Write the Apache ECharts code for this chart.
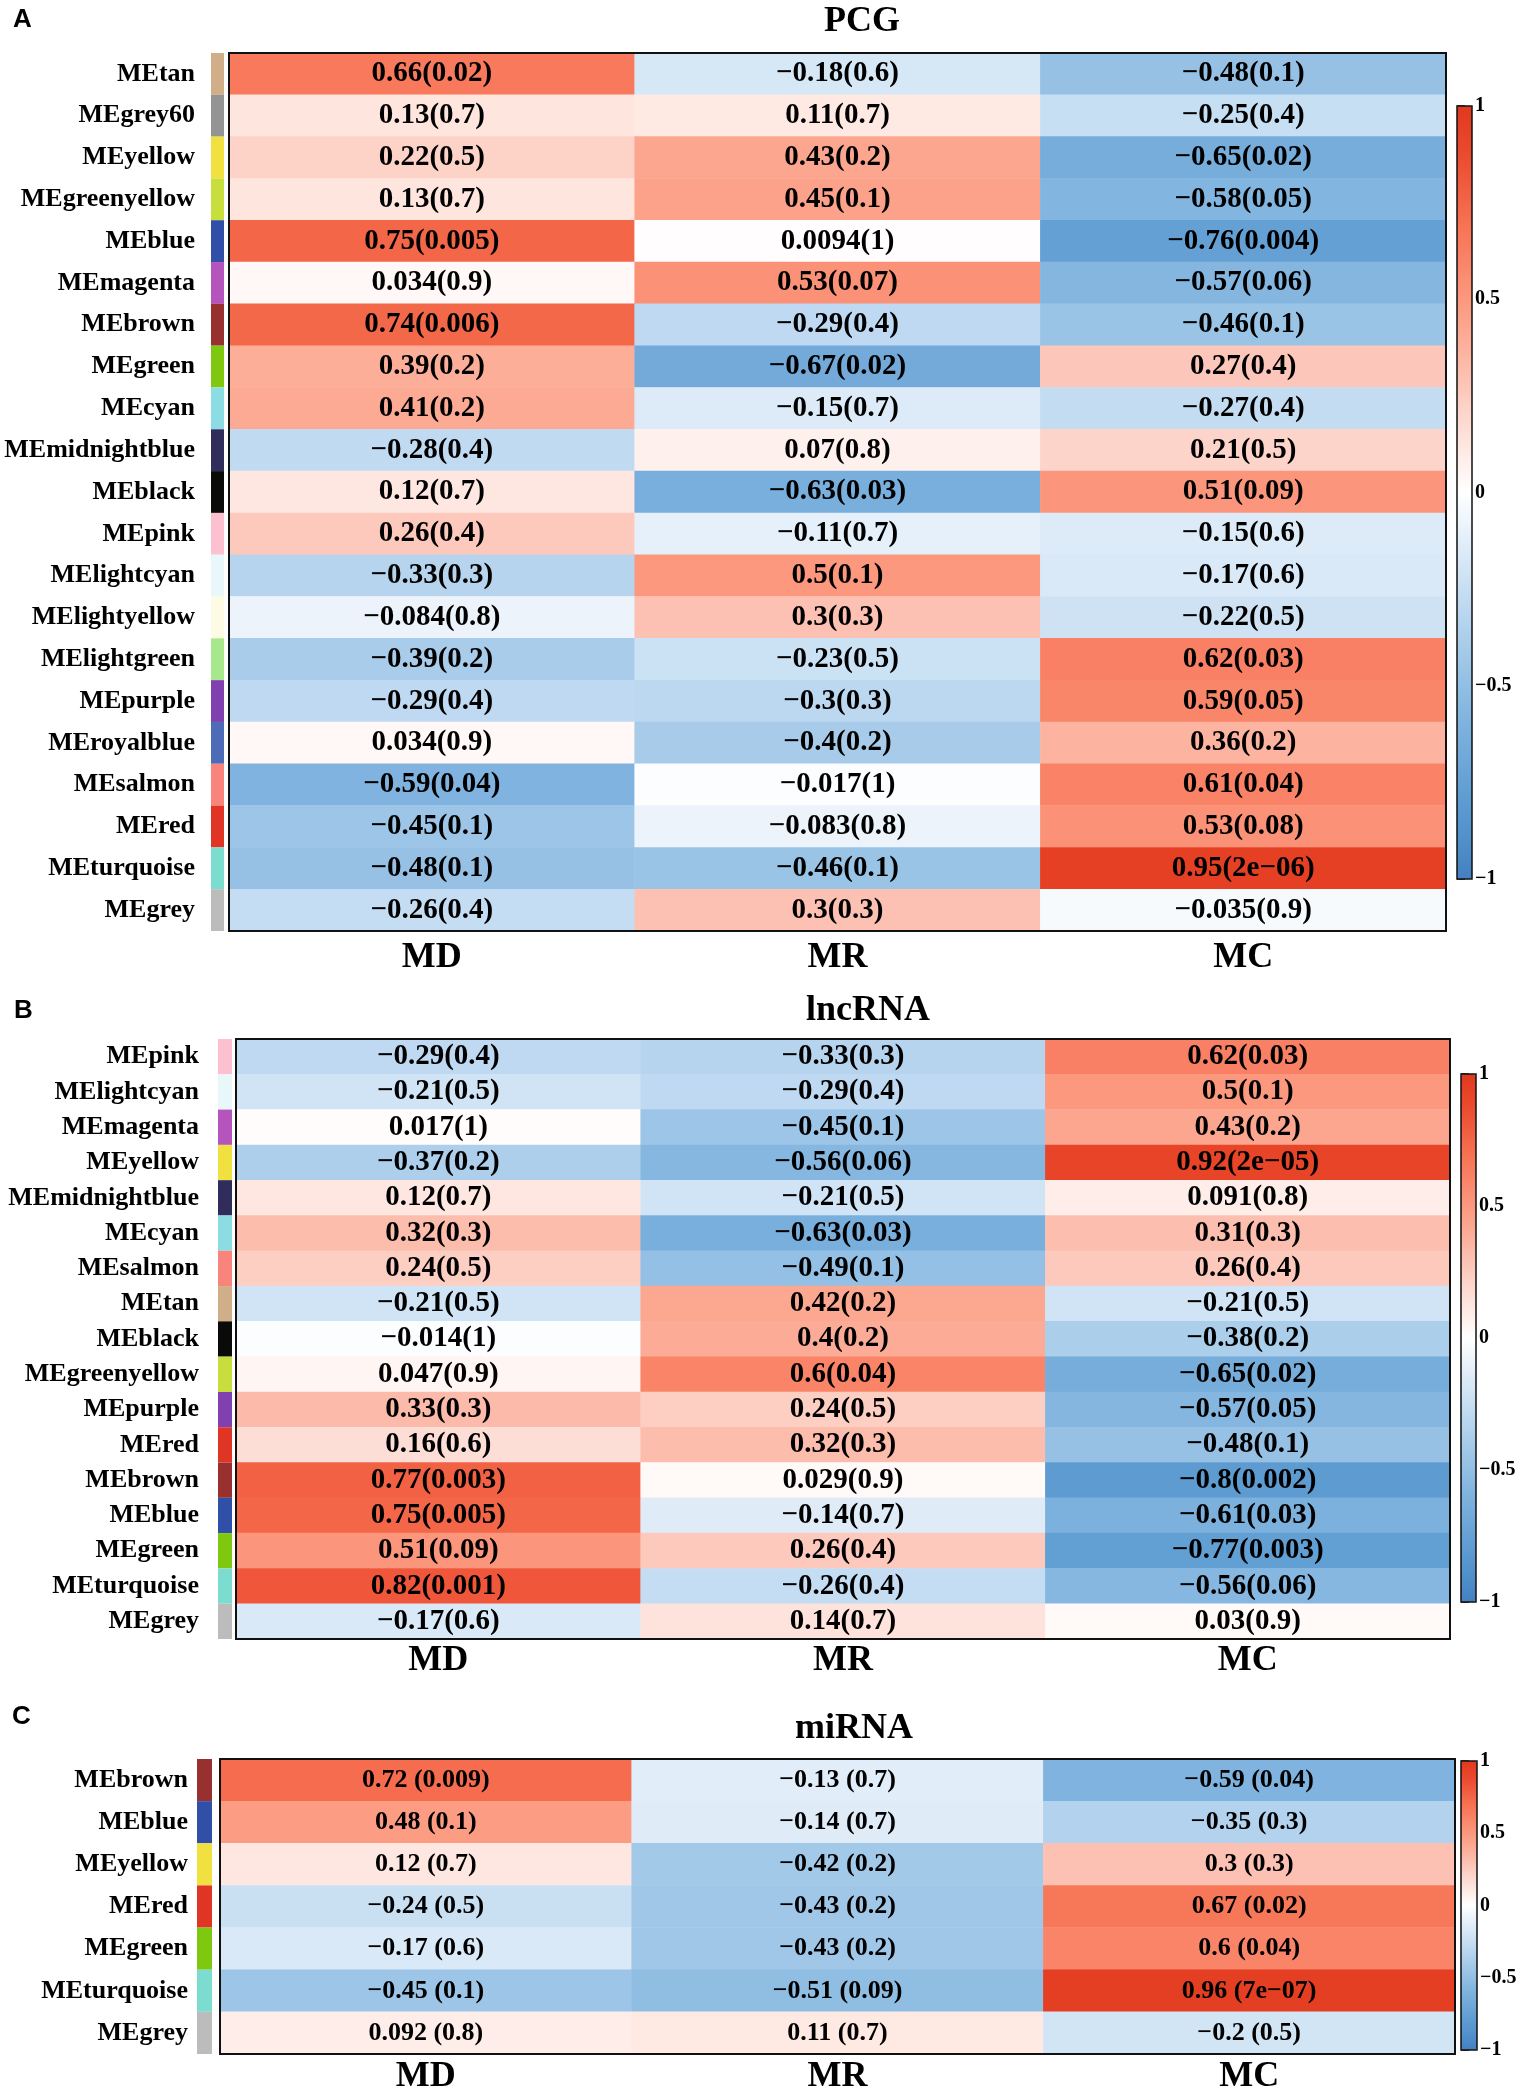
<!DOCTYPE html>
<html>
<head>
<meta charset="utf-8">
<script src="https://cdn.jsdelivr.net/npm/echarts@6/dist/echarts.min.js"></script>
<style>
  html, body { margin: 0; padding: 0; background: #fff; }
  #chart { width: 1535px; height: 2098px; }
</style>
</head>
<body>
<div id="chart"></div>
<script>
// traits on the x axis
const traits = ['MD', 'MR', 'MC'];

// A - PCG modules
const pcgModules = ['MEtan', 'MEgrey60', 'MEyellow', 'MEgreenyellow', 'MEblue', 'MEmagenta', 'MEbrown',
  'MEgreen', 'MEcyan', 'MEmidnightblue', 'MEblack', 'MEpink', 'MElightcyan', 'MElightyellow',
  'MElightgreen', 'MEpurple', 'MEroyalblue', 'MEsalmon', 'MEred', 'MEturquoise', 'MEgrey'];
const pcgR = [
  [0.66, -0.18, -0.48], [0.13, 0.11, -0.25], [0.22, 0.43, -0.65], [0.13, 0.45, -0.58],
  [0.75, 0.0094, -0.76], [0.034, 0.53, -0.57], [0.74, -0.29, -0.46], [0.39, -0.67, 0.27],
  [0.41, -0.15, -0.27], [-0.28, 0.07, 0.21], [0.12, -0.63, 0.51], [0.26, -0.11, -0.15],
  [-0.33, 0.5, -0.17], [-0.084, 0.3, -0.22], [-0.39, -0.23, 0.62], [-0.29, -0.3, 0.59],
  [0.034, -0.4, 0.36], [-0.59, -0.017, 0.61], [-0.45, -0.083, 0.53], [-0.48, -0.46, 0.95],
  [-0.26, 0.3, -0.035]
];
const pcgP = [
  ['0.02', '0.6', '0.1'], ['0.7', '0.7', '0.4'], ['0.5', '0.2', '0.02'], ['0.7', '0.1', '0.05'],
  ['0.005', '1', '0.004'], ['0.9', '0.07', '0.06'], ['0.006', '0.4', '0.1'], ['0.2', '0.02', '0.4'],
  ['0.2', '0.7', '0.4'], ['0.4', '0.8', '0.5'], ['0.7', '0.03', '0.09'], ['0.4', '0.7', '0.6'],
  ['0.3', '0.1', '0.6'], ['0.8', '0.3', '0.5'], ['0.2', '0.5', '0.03'], ['0.4', '0.3', '0.05'],
  ['0.9', '0.2', '0.2'], ['0.04', '1', '0.04'], ['0.1', '0.8', '0.08'], ['0.1', '0.1', '2e\u221206'],
  ['0.4', '0.3', '0.9']
];

// B - lncRNA modules
const lncModules = ['MEpink', 'MElightcyan', 'MEmagenta', 'MEyellow', 'MEmidnightblue', 'MEcyan',
  'MEsalmon', 'MEtan', 'MEblack', 'MEgreenyellow', 'MEpurple', 'MEred', 'MEbrown', 'MEblue',
  'MEgreen', 'MEturquoise', 'MEgrey'];
const lncR = [
  [-0.29, -0.33, 0.62], [-0.21, -0.29, 0.5], [0.017, -0.45, 0.43], [-0.37, -0.56, 0.92],
  [0.12, -0.21, 0.091], [0.32, -0.63, 0.31], [0.24, -0.49, 0.26], [-0.21, 0.42, -0.21],
  [-0.014, 0.4, -0.38], [0.047, 0.6, -0.65], [0.33, 0.24, -0.57], [0.16, 0.32, -0.48],
  [0.77, 0.029, -0.8], [0.75, -0.14, -0.61], [0.51, 0.26, -0.77], [0.82, -0.26, -0.56],
  [-0.17, 0.14, 0.03]
];
const lncP = [
  ['0.4', '0.3', '0.03'], ['0.5', '0.4', '0.1'], ['1', '0.1', '0.2'], ['0.2', '0.06', '2e\u221205'],
  ['0.7', '0.5', '0.8'], ['0.3', '0.03', '0.3'], ['0.5', '0.1', '0.4'], ['0.5', '0.2', '0.5'],
  ['1', '0.2', '0.2'], ['0.9', '0.04', '0.02'], ['0.3', '0.5', '0.05'], ['0.6', '0.3', '0.1'],
  ['0.003', '0.9', '0.002'], ['0.005', '0.7', '0.03'], ['0.09', '0.4', '0.003'], ['0.001', '0.4', '0.06'],
  ['0.6', '0.7', '0.9']
];

// C - miRNA modules
const mirModules = ['MEbrown', 'MEblue', 'MEyellow', 'MEred', 'MEgreen', 'MEturquoise', 'MEgrey'];
const mirR = [
  [0.72, -0.13, -0.59], [0.48, -0.14, -0.35], [0.12, -0.42, 0.3], [-0.24, -0.43, 0.67],
  [-0.17, -0.43, 0.6], [-0.45, -0.51, 0.96], [0.092, 0.11, -0.2]
];
const mirP = [
  ['0.009', '0.7', '0.04'], ['0.1', '0.7', '0.3'], ['0.7', '0.2', '0.3'], ['0.5', '0.2', '0.02'],
  ['0.6', '0.2', '0.04'], ['0.1', '0.09', '7e\u221207'], ['0.8', '0.7', '0.5']
];

// colour bar ticks
const barTicks = [-1, -0.5, 0, 0.5, 1];

// module strip colours
const moduleColors = {
  MEtan: '#cfae88', MEgrey60: '#949494', MEyellow: '#f0e040', MEgreenyellow: '#c8de3c',
  MEblue: '#3050a8', MEmagenta: '#b454bc', MEbrown: '#983030', MEgreen: '#7ec810',
  MEcyan: '#8cdce4', MEmidnightblue: '#302c5c', MEblack: '#0a0a08', MEpink: '#fcc0d0',
  MElightcyan: '#e8f8fa', MElightyellow: '#fefbe4', MElightgreen: '#a8e88c', MEpurple: '#8040b0',
  MEroyalblue: '#4c6cb8', MEsalmon: '#f8847c', MEred: '#e03424', MEturquoise: '#7cdcd0',
  MEgrey: '#bcbcbc'
};
// blue - white - red, one stop every 0.1 from -1 to 1
const corrColors = ['#4580c2', '#5090ca', '#5d9bd1', '#6ea7d8', '#7eb2de', '#92bfe4', '#a7cbe9',
  '#bcd8f0', '#d2e5f5', '#e8f1fa', '#ffffff', '#feebe6', '#fdd6cc', '#fcc1b2', '#fcac96',
  '#fb987e', '#fa8468', '#f67152', '#f05a3e', '#e9462a', '#e03a1e'];

const serif = 'Liberation Serif';
const fmt = v => String(v).replace('-', '\u2212');

const grid = [], xAxis = [], yAxis = [], series = [], visualMap = [], title = [];

function addPanel(letter, name, modules, r, p, lay) {
  const g = grid.length;
  // heatmap, module strip, colour bar
  grid.push(
    {left: lay.heat[0], top: lay.heat[1], width: lay.heat[2], height: lay.heat[3],
     show: true, z: 5, backgroundColor: 'transparent', borderColor: '#111', borderWidth: 2},
    {left: lay.strip[0], top: lay.heat[1], width: lay.strip[1], height: lay.heat[3]},
    {left: lay.bar[0], top: lay.bar[1], width: lay.bar[2], height: lay.bar[3],
     show: true, z: 5, backgroundColor: 'transparent', borderColor: '#111', borderWidth: 1.5}
  );
  xAxis.push(
    {gridIndex: g, type: 'category', data: traits, position: 'bottom',
     axisLine: {show: false}, axisTick: {show: false}, splitLine: {show: false},
     axisLabel: {margin: lay.xMargin, fontFamily: serif, fontWeight: 'bold', fontSize: 36, color: '#000'}},
    {gridIndex: g + 1, type: 'value', min: 0, max: 1, show: false},
    {gridIndex: g + 2, type: 'value', min: 0, max: 1, show: false}
  );
  yAxis.push(
    {gridIndex: g, type: 'category', data: modules, inverse: true, show: false},
    {gridIndex: g + 1, type: 'category', data: modules, inverse: true,
     axisLine: {show: false}, axisTick: {show: false},
     axisLabel: {margin: lay.yMargin, fontFamily: serif, fontWeight: 'bold', fontSize: 26, color: '#000'}},
    {gridIndex: g + 2, type: 'value', min: barTicks[0], max: barTicks[barTicks.length - 1], interval: 0.5,
     position: 'right', splitLine: {show: false}, axisLine: {show: false},
     axisTick: {show: true, length: 8, lineStyle: {color: '#111', width: 1.5}},
     axisLabel: {margin: 3, fontFamily: serif, fontWeight: 'bold', fontSize: 20, color: '#000', formatter: fmt}}
  );
  const cells = [];
  r.forEach((row, i) => row.forEach((v, j) => cells.push([j, i, v])));
  const sIdx = series.length;
  series.push({
    type: 'heatmap', xAxisIndex: g, yAxisIndex: g, data: cells,
    itemStyle: {borderWidth: 0},
    emphasis: {disabled: true},
    label: {
      show: true, color: '#000', fontFamily: serif, fontWeight: 'bold', fontSize: lay.cellFont,
      formatter: prm => fmt(prm.value[2]) + lay.sep + '(' + p[prm.value[1]][prm.value[0]] + ')'
    }
  });
  series.push({
    type: 'bar', xAxisIndex: g + 1, yAxisIndex: g + 1, barWidth: '100%', silent: true,
    data: modules.map(m => ({value: 1, itemStyle: {color: moduleColors[m]}}))
  });
  visualMap.push({
    type: 'continuous', min: -1, max: 1, seriesIndex: sIdx, calculable: false, hoverLink: false,
    left: lay.bar[0], top: lay.bar[1], itemWidth: lay.bar[2], itemHeight: lay.bar[3], padding: 0,
    inRange: {color: corrColors}
  });
  title.push(
    {text: letter, left: lay.letter[0], top: lay.letter[1], padding: 0,
     textStyle: {fontFamily: 'Liberation Sans', fontWeight: 'bold', fontSize: 26, color: '#000'}},
    {text: name, left: lay.title[0], top: lay.title[1], textAlign: 'center', padding: 0,
     textStyle: {fontFamily: serif, fontWeight: 'bold', fontSize: 36, color: '#000'}}
  );
}

addPanel('A', 'PCG', pcgModules, pcgR, pcgP, {
  heat: [229, 53, 1217, 878], strip: [211, 13], bar: [1457, 106, 15, 773],
  xMargin: 9, yMargin: 16, cellFont: 29, sep: '', letter: [13, 7], title: [862, 4]
});
addPanel('B', 'lncRNA', lncModules, lncR, lncP, {
  heat: [236, 1039, 1214, 600], strip: [218, 14], bar: [1461, 1074, 15, 528],
  xMargin: 4, yMargin: 19, cellFont: 29, sep: '', letter: [14, 998], title: [868, 993]
});
addPanel('C', 'miRNA', mirModules, mirR, mirP, {
  heat: [220, 1759, 1235, 295], strip: [197, 15], bar: [1461, 1761, 16, 289],
  xMargin: 5, yMargin: 9, cellFont: 26, sep: ' ', letter: [12, 1704], title: [854, 1711]
});

const chart = echarts.init(document.getElementById('chart'));
chart.setOption({
  backgroundColor: '#fff',
  animation: false,
  title: title,
  grid: grid,
  xAxis: xAxis,
  yAxis: yAxis,
  visualMap: visualMap,
  series: series
});
</script>
</body>
</html>
